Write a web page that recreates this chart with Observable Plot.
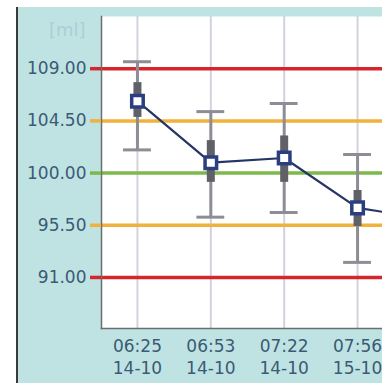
<!DOCTYPE html>
<html>
<head>
<meta charset="utf-8">
<script src="https://cdn.jsdelivr.net/npm/d3@7"></script>
<script src="https://cdn.jsdelivr.net/npm/@observablehq/plot@0.6"></script>
<style>
  html, body { margin: 0; padding: 0; background: #ffffff; }
  #wrap { position: relative; width: 382px; height: 383px; overflow: hidden; }
  #bg { position: absolute; left: 16px; top: 7px; right: 0; bottom: 0; background: #bfe3e3; border-left: 2px solid #3a3a3a; }
  #chart { position: absolute; left: 0; top: 0; }
  #chart svg { background: transparent; font-family: "DejaVu Sans", Verdana, sans-serif; }
</style>
</head>
<body>
<div id="wrap"><div id="bg"></div><div id="chart"></div></div>
<script>
// ---- data ----
const times = ["06:25", "06:53", "07:22", "07:56"];
const dates = ["14-10", "14-10", "14-10", "15-10"];
const means = [106.2, 100.9, 101.3, 97.0, 96.0];
const whiskerHigh = [109.6, 105.3, 106.0, 101.6];
const whiskerLow = [102.0, 96.2, 96.6, 92.3];
const boxHigh = [107.8, 102.8, 103.2, 98.5];
const boxLow = [104.8, 99.2, 99.2, 95.4];
const thresholds = [109, 104.5, 100, 95.5, 91];
const thresholdColors = ["#d7262b", "#f0b23a", "#7cb84a", "#f0b23a", "#d7262b"];
const unitLabel = "[ml]";

// ---- tables ----
const pts = means.map((m, i) => ({i, mean: m}));
const bars = whiskerHigh.map((h, i) => ({i, hi: h, lo: whiskerLow[i], bhi: boxHigh[i], blo: boxLow[i]}));
const colorOf = v => thresholdColors[thresholds.indexOf(v)];
const capHalf = 0.19;

const chart = Plot.plot({
  width: 382,
  height: 383,
  marginLeft: 101,
  marginRight: 0,
  marginTop: 16,
  marginBottom: 55,
  style: {background: "transparent", fontFamily: "DejaVu Sans, Verdana, sans-serif"},
  x: {type: "linear", domain: [-0.49, 3.34]},
  y: {domain: [86.6, 113.5]},
  marks: [
    Plot.frame({fill: "white", stroke: null}),
    Plot.ruleX(d3.range(means.length), {x: d => d, stroke: "#d2d2de", strokeWidth: 2, clip: true}),
    Plot.ruleY(thresholds, {y: d => d, stroke: d => colorOf(d), strokeWidth: 3.5}),
    Plot.frame({anchor: "left", stroke: "#6e6e6e", strokeWidth: 1.5}),
    Plot.frame({anchor: "bottom", stroke: "#6e6e6e", strokeWidth: 1.5}),
    Plot.axisY({
      ticks: thresholds,
      tickFormat: d => d.toFixed(2),
      tickSize: 11,
      tickPadding: 4,
      stroke: d => colorOf(d),
      strokeWidth: 3.5,
      fill: "#3b5a74",
      fontSize: 17,
      label: null
    }),
    Plot.axisX({
      ticks: d3.range(times.length),
      tickFormat: i => times[i] + "\n" + dates[i],
      tickSize: 0,
      tickPadding: 8,
      lineHeight: 1.3,
      fill: "#3b5a74",
      fontSize: 17,
      label: null
    }),
    Plot.text([unitLabel], {frameAnchor: "top-left", textAnchor: "end", lineAnchor: "middle", dx: -16, dy: 14, fill: "#a9d0d6", fontSize: 18}),
    Plot.ruleX(bars, {x: "i", y1: "lo", y2: "hi", stroke: "#8d8d96", strokeWidth: 3}),
    Plot.ruleY(bars, {y: "hi", x1: d => d.i - capHalf, x2: d => d.i + capHalf, stroke: "#8d8d96", strokeWidth: 3}),
    Plot.ruleY(bars, {y: "lo", x1: d => d.i - capHalf, x2: d => d.i + capHalf, stroke: "#8d8d96", strokeWidth: 3}),
    Plot.ruleX(bars, {x: "i", y1: "blo", y2: "bhi", stroke: "#606068", strokeWidth: 8}),
    Plot.line(pts, {x: "i", y: "mean", stroke: "#263566", strokeWidth: 2.2, clip: true}),
    Plot.dot(pts, {x: "i", y: "mean", symbol: "square", r: 6.5, fill: "white", stroke: "#2b3f80", strokeWidth: 3.5, clip: true})
  ]
});
document.getElementById("chart").appendChild(chart);
</script>
</body>
</html>
